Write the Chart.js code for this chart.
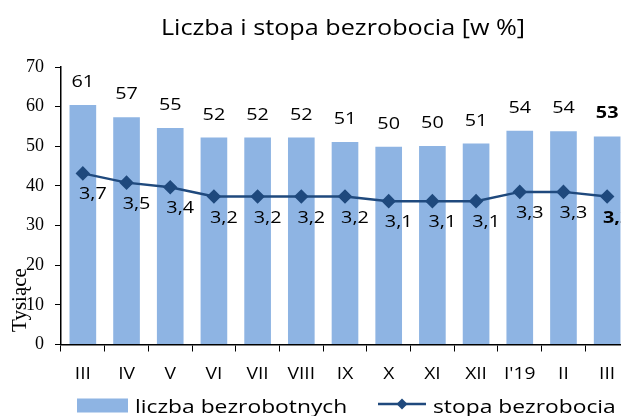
<!DOCTYPE html>
<html lang="pl">
<head>
    <meta charset="UTF-8">
    <title>Liczba i stopa bezrobocia</title>
    <script src="https://cdn.jsdelivr.net/npm/chart.js"></script>
    <style>
        body {
            margin: 0;
            background: #fff;
            overflow: hidden;
        }
        .chart-box {
            width: 640px;
            height: 416px;
        }
    </style>
</head>
<body>
    <div class="chart-box">
        <canvas id="bezrobocie"></canvas>
    </div>

    <script>
        const months = ['III', 'IV', 'V', 'VI', 'VII', 'VIII', 'IX', 'X', 'XI', 'XII', "I'19", 'II', 'III'];
        const liczba = [60.4, 57.3, 54.6, 52.2, 52.2, 52.2, 51.1, 49.9, 50.1, 50.7, 53.9, 53.8, 52.5];
        const liczbaLabels = ['61', '57', '55', '52', '52', '52', '51', '50', '50', '51', '54', '54', '53'];
        const stopa = [3.7, 3.5, 3.4, 3.2, 3.2, 3.2, 3.2, 3.1, 3.1, 3.1, 3.3, 3.3, 3.2];
        const stopaLabels = ['3,7', '3,5', '3,4', '3,2', '3,2', '3,2', '3,2', '3,1', '3,1', '3,1', '3,3', '3,3', '3,2'];
        const yTicks = [0, 10, 20, 30, 40, 50, 60, 70];

        const barColor = '#8EB4E3';
        const lineColor = '#1F497D';
        const sansFont = "'Open Sans', 'Noto Sans', sans-serif";
        const serifFont = "'Liberation Serif', 'DejaVu Serif', serif";
        const stretch = 1.2; // the original text is a bit wider than Open Sans

        function wideText(c, text, x, y, font, align) {
            c.save();
            c.translate(x, y);
            c.scale(stretch, 1);
            c.font = font;
            c.textAlign = align || 'center';
            c.textBaseline = 'alphabetic';
            c.fillText(text, 0, 0);
            c.restore();
        }

        // labels, title, axis caption and legend drawn by hand
        const extras = {
            id: 'extras',
            afterDatasetsDraw(chart) {
                const c = chart.ctx;
                const last = months.length - 1;
                const xScale = chart.scales.x;
                c.save();
                c.fillStyle = '#000';

                // category labels
                months.forEach((m, i) => {
                    wideText(c, m, xScale.getPixelForValue(i), 378.5, '16px ' + sansFont);
                });

                // data labels
                chart.getDatasetMeta(1).data.forEach((bar, i) => {
                    wideText(c, liczbaLabels[i], bar.x, bar.y - 18,
                        (i === last ? 'bold ' : '') + '16.5px ' + sansFont);
                });
                chart.getDatasetMeta(0).data.forEach((pt, i) => {
                    wideText(c, stopaLabels[i], pt.x + 10, pt.y + 26,
                        (i === last ? 'bold ' : '') + '16.5px ' + sansFont);
                });

                // title
                wideText(c, 'Liczba i stopa bezrobocia [w %]', 343, 34.5, '21px ' + sansFont);

                // y axis caption
                c.save();
                c.translate(20, 300);
                c.rotate(-Math.PI / 2);
                c.font = '21px ' + serifFont;
                c.textAlign = 'center';
                c.textBaseline = 'middle';
                c.fillText('Tysiące', 0, 0);
                c.restore();

                // legend
                c.fillStyle = barColor;
                c.fillRect(77, 398.5, 51, 14);
                c.fillStyle = '#000';
                wideText(c, 'liczba bezrobotnych', 135, 412.5, '19px ' + sansFont, 'left');

                c.strokeStyle = lineColor;
                c.lineWidth = 2.5;
                c.beginPath();
                c.moveTo(378, 404);
                c.lineTo(426, 404);
                c.stroke();
                c.fillStyle = lineColor;
                c.beginPath();
                c.moveTo(402, 398.5);
                c.lineTo(407.5, 404);
                c.lineTo(402, 409.5);
                c.lineTo(396.5, 404);
                c.closePath();
                c.fill();
                c.fillStyle = '#000';
                wideText(c, 'stopa bezrobocia', 433, 412.5, '19px ' + sansFont, 'left');
                c.restore();
            }
        };

        new Chart(document.getElementById('bezrobocie'), {
            data: {
                labels: months,
                datasets: [{
                    type: 'line',
                    label: 'stopa bezrobocia',
                    data: stopa,
                    yAxisID: 'y2',
                    borderColor: lineColor,
                    backgroundColor: lineColor,
                    borderWidth: 2.5,
                    pointStyle: 'rectRot',
                    pointRadius: 5.5,
                    tension: 0,
                    order: 0
                }, {
                    type: 'bar',
                    label: 'liczba bezrobotnych',
                    data: liczba,
                    backgroundColor: barColor,
                    barPercentage: 0.61,
                    categoryPercentage: 1,
                    order: 1
                }]
            },
            options: {
                responsive: true,
                maintainAspectRatio: false,
                animation: false,
                layout: { padding: { top: 67, right: 11, bottom: 0, left: 0 } },
                plugins: {
                    legend: { display: false },
                    title: { display: false },
                    tooltip: { enabled: false }
                },
                scales: {
                    x: {
                        offset: true,
                        grid: { offset: true, drawOnChartArea: false, color: '#000', tickLength: 7 },
                        border: { color: '#000', width: 1.5 },
                        ticks: { display: false },
                        afterFit(scale) { scale.height = 71.5; }
                    },
                    y: {
                        min: 0,
                        max: 70,
                        afterBuildTicks(scale) { scale.ticks = yTicks.map(v => ({ value: v })); },
                        grid: { drawOnChartArea: false, color: '#000', tickLength: 6 },
                        border: { color: '#000', width: 1.5 },
                        ticks: { color: '#000', font: { family: serifFont, size: 18 }, padding: 11 },
                        afterFit(scale) { scale.width = 61; }
                    },
                    y2: {
                        display: false,
                        min: 0,
                        max: 6
                    }
                }
            },
            plugins: [extras]
        });
    </script>
</body>
</html>
